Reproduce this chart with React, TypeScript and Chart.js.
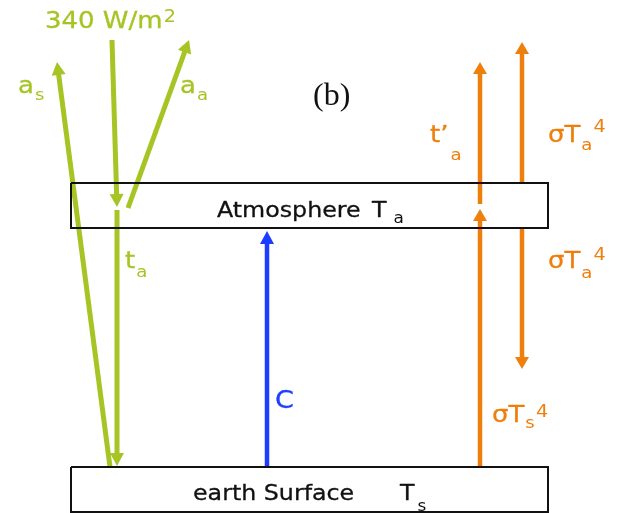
import React, { useEffect, useRef } from "react";
import { Chart, registerables } from "chart.js";

Chart.register(...registerables);

// ---- diagram data (in image coordinate units, y grows downward) ----
const boxNames = ["Atmosphere", "earth Surface"];
const boxLeft = [71, 71];
const boxRight = [548, 548];
const boxTop = [183, 467];
const boxBottom = [228, 512];

const arrowNames = ["a_s", "340 W/m2", "a_a", "t_a", "C", "sigmaTs4", "t'_a", "sigmaTa4 up", "sigmaTa4 down"];
const arrowTailX = [110, 112, 128, 117, 267, 480, 480, 522, 522];
const arrowTailY = [467, 40, 208, 210, 467, 467, 204, 183, 228];
const arrowTipX = [57, 117, 189, 117, 267, 480, 480, 522, 522];
const arrowTipY = [62, 207, 40, 466, 231, 209, 62, 42, 369];
const arrowKind = ["green", "green", "green", "green", "blue", "orange", "orange", "orange", "orange"];

const labelMain = ["340 W/m", "a", "a", "t", "C", "t\u2019", "\u03c3T", "\u03c3T", "\u03c3T", "Atmosphere", "T", "earth Surface", "T", "(b)"];
const labelSub = ["", "s", "a", "a", "", "a", "a", "a", "s", "", "a", "", "s", ""];
const labelSup = ["2", "", "", "", "", "", "4", "4", "4", "", "", "", "", ""];
const labelX = [45, 18, 180, 125, 275, 430, 548, 548, 492, 217, 372, 193, 400, 313];
const labelY = [28, 93, 93, 268, 408, 142, 142, 268, 422, 217, 217, 500, 500, 105];
const labelSubDx = [0, 1, 1, 1, 0, 2, 1, 1, 1, 0, 7, 0, 3, 0];
const labelSubDy = [0, 7, 7, 9, 0, 18, 8, 10, 6, 0, 6, 0, 11, 0];
const labelSupDy = [-6, 0, 0, 0, 0, 0, -10, -8, -5, 0, 0, 0, 0, 0];
const labelKind = ["green", "green", "green", "green", "blue", "orange", "orange", "orange", "orange", "black", "black", "black", "black", "serif"];

const COLORS: Record<string, string> = {
  green: "#a6c423",
  orange: "#ee7f0c",
  blue: "#1c3dff",
  black: "#111111",
  serif: "#111111",
};

function headGeom(pts: any[]) {
  const tip = pts[pts.length - 1];
  const prev = pts[pts.length - 2];
  const dx = tip.x - prev.x, dy = tip.y - prev.y;
  const L = Math.hypot(dx, dy);
  const ux = dx / L, uy = dy / L;
  return { tip, ux, uy, nx: -uy, ny: ux };
}

const arrowPlugin = {
  id: "arrowHeads",
  beforeDatasetDraw(chart: any, args: any) {
    const ds = chart.data.datasets[args.index];
    if (!ds.arrow) return;
    const { tip, ux, uy, nx, ny } = headGeom(args.meta.data);
    const len = ds.headLen;
    const sx = tip.x - ux * len * 0.6, sy = tip.y - uy * len * 0.6;
    const ex = tip.x + ux * 4, ey = tip.y + uy * 4;
    const w = 10;
    const ctx = chart.ctx;
    ctx.save();
    ctx.beginPath();
    ctx.rect(0, 0, chart.width, chart.height);
    ctx.moveTo(sx + nx * w, sy + ny * w);
    ctx.lineTo(ex + nx * w, ey + ny * w);
    ctx.lineTo(ex - nx * w, ey - ny * w);
    ctx.lineTo(sx - nx * w, sy - ny * w);
    ctx.closePath();
    ctx.clip("evenodd");
  },
  afterDatasetDraw(chart: any, args: any) {
    const ds = chart.data.datasets[args.index];
    if (!ds.arrow) return;
    const ctx = chart.ctx;
    ctx.restore();
    const { tip, ux, uy, nx, ny } = headGeom(args.meta.data);
    const bx = tip.x - ux * ds.headLen, by = tip.y - uy * ds.headLen;
    ctx.save();
    ctx.fillStyle = ds.borderColor;
    ctx.beginPath();
    ctx.moveTo(tip.x, tip.y);
    ctx.lineTo(bx + nx * ds.headHalf, by + ny * ds.headHalf);
    ctx.lineTo(bx - nx * ds.headHalf, by - ny * ds.headHalf);
    ctx.closePath();
    ctx.fill();
    ctx.restore();
  },
  afterDraw(chart: any) {
    const ctx = chart.ctx;
    const xs = chart.scales.x, ys = chart.scales.y;
    ctx.save();
    ctx.textBaseline = "alphabetic";
    ctx.textAlign = "left";
    ctx.lineJoin = "round";
    labelMain.forEach((txt, i) => {
      const kind = labelKind[i];
      const serif = kind === "serif";
      const isBox = kind === "black";
      const size = serif ? 32 : isBox ? 21 : kind === "blue" ? 24 : 23;
      const subSize = isBox ? 15 : 16;
      const supSize = 17;
      const family = serif ? "'Liberation Serif', serif" : "'DejaVu Sans', sans-serif";
      const stretch = serif ? 1 : 1.13;
      const x = xs.getPixelForValue(labelX[i]);
      const y = ys.getPixelForValue(labelY[i]);
      ctx.fillStyle = COLORS[kind];
      ctx.strokeStyle = COLORS[kind];
      ctx.lineWidth = 0.3;
      ctx.save();
      ctx.translate(x, y);
      ctx.scale(stretch, 1);
      let cx = 0;
      ctx.font = `${size}px ${family}`;
      ctx.fillText(txt, cx, 0);
      if (!serif) ctx.strokeText(txt, cx, 0);
      cx += ctx.measureText(txt).width;
      if (labelSub[i]) {
        cx += labelSubDx[i] / stretch;
        ctx.font = `${subSize}px ${family}`;
        ctx.fillText(labelSub[i], cx, labelSubDy[i]);
        cx += ctx.measureText(labelSub[i]).width;
      }
      if (labelSup[i]) {
        cx += 1;
        ctx.font = `${supSize}px ${family}`;
        ctx.fillText(labelSup[i], cx, labelSupDy[i]);
      }
      ctx.restore();
    });
    ctx.restore();
  },
};

export default function App() {
  const ref = useRef<HTMLCanvasElement>(null);
  useEffect(() => {
    document.body.style.margin = "0";
    const datasets: any[] = [];
    boxNames.forEach((name, i) => {
      datasets.push({
        label: name,
        data: [
          { x: boxLeft[i], y: boxTop[i] },
          { x: boxRight[i], y: boxTop[i] },
          { x: boxRight[i], y: boxBottom[i] },
          { x: boxLeft[i], y: boxBottom[i] },
          { x: boxLeft[i], y: boxTop[i] },
        ],
        showLine: true,
        borderColor: "#111111",
        borderWidth: 2,
        pointRadius: 0,
        fill: false,
        tension: 0,
        borderJoinStyle: "miter",
      });
    });
    arrowNames.forEach((name, i) => {
      const kind = arrowKind[i];
      datasets.push({
        label: name,
        data: [
          { x: arrowTailX[i], y: arrowTailY[i] },
          { x: arrowTipX[i], y: arrowTipY[i] },
        ],
        showLine: true,
        borderColor: COLORS[kind],
        borderWidth: kind === "green" ? 5 : 4.5,
        borderCapStyle: "butt",
        pointRadius: 0,
        fill: false,
        tension: 0,
        arrow: true,
        headLen: kind === "orange" ? 12 : 13,
        headHalf: 7,
      });
    });
    const chart = new Chart(ref.current!, {
      type: "scatter",
      data: { datasets },
      options: {
        animation: false,
        responsive: false,
        devicePixelRatio: 1,
        layout: { padding: 0 },
        plugins: { legend: { display: false }, tooltip: { enabled: false } },
        scales: {
          x: { type: "linear", min: 0, max: 625, display: false },
          y: { type: "linear", min: 0, max: 513, reverse: true, display: false },
        },
      },
      plugins: [arrowPlugin],
    });
    return () => chart.destroy();
  }, []);
  return (
    <div style={{ width: 625, height: 513, background: "#ffffff" }}>
      <canvas ref={ref} width={625} height={513} style={{ display: "block" }} />
    </div>
  );
}
